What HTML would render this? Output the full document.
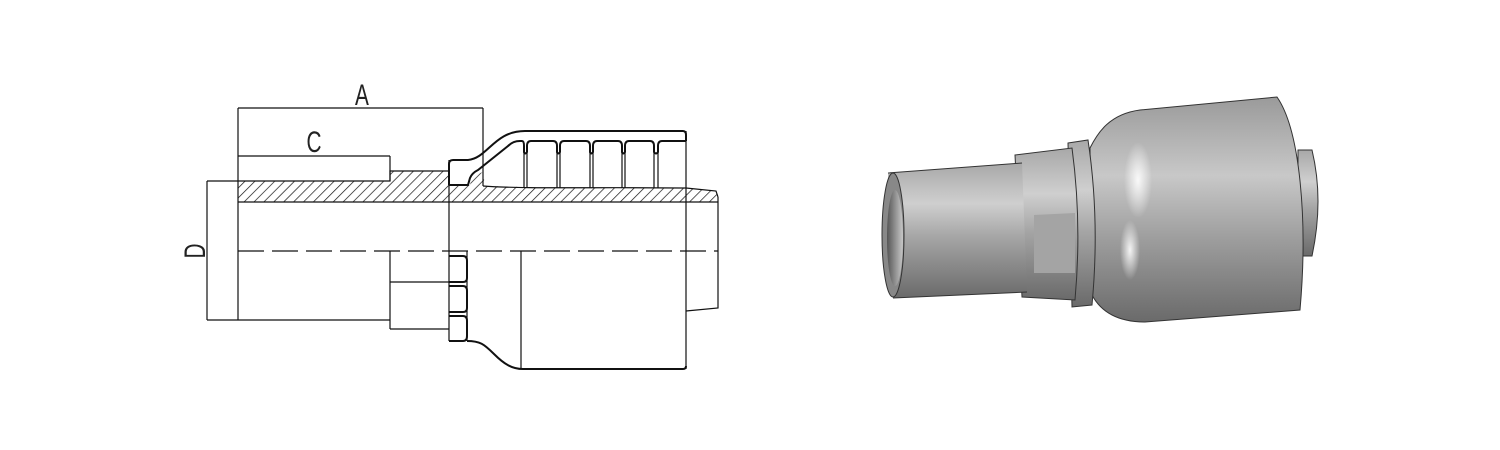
<!DOCTYPE html>
<html><head><meta charset="utf-8"><style>
html,body{margin:0;padding:0;background:#fff;}
svg{display:block;}
</style></head><body>
<svg width="1500" height="450" viewBox="0 0 1500 450" xmlns="http://www.w3.org/2000/svg">
<defs>
<pattern id="hatch" patternUnits="userSpaceOnUse" width="7" height="7" patternTransform="rotate(45)">
<line x1="0" y1="0" x2="0" y2="7" stroke="#111" stroke-width="1.4"/>
</pattern>
<linearGradient id="gv" x1="0" y1="0" x2="0" y2="1">
<stop offset="0" stop-color="#a8a8a8"/>
<stop offset="0.3" stop-color="#cfcfcf"/>
<stop offset="0.55" stop-color="#a5a5a5"/>
<stop offset="1" stop-color="#6a6a6a"/>
</linearGradient>
<linearGradient id="gb" x1="0" y1="0" x2="0" y2="1">
<stop offset="0" stop-color="#9a9a9a"/>
<stop offset="0.35" stop-color="#c8c8c8"/>
<stop offset="0.6" stop-color="#a2a2a2"/>
<stop offset="1" stop-color="#6a6a6a"/>
</linearGradient>
<linearGradient id="gh" x1="0" y1="0" x2="1" y2="0">
<stop offset="0" stop-color="#555"/>
<stop offset="1" stop-color="#c8c8c8"/>
</linearGradient>
<radialGradient id="hl" cx="0.5" cy="0.5" r="0.5">
<stop offset="0" stop-color="#fff" stop-opacity="0.9"/>
<stop offset="1" stop-color="#fff" stop-opacity="0"/>
</radialGradient>
</defs>

<g fill="none" stroke="#111" stroke-width="1.2">
<path d="M238,181 L390,181 L390,171 L449,171 L449,185 L470,185 L472,176 L483,172 L485,186 L560,188 L686,188 L716,191 L718,197 L718,202 L238,202 Z" fill="url(#hatch)" stroke="none"/>
<path d="M238,181 L390,181 L390,171 L449,171"/>
<path d="M483,186 C520,189 600,187 686,188 L716,191 L718,197"/>
<line x1="238" y1="202" x2="718" y2="202"/>
<line x1="238" y1="108" x2="483" y2="108"/>
<line x1="483" y1="108" x2="483" y2="186"/>
<line x1="238" y1="108" x2="238" y2="320"/>
<line x1="238" y1="156" x2="390" y2="156"/>
<line x1="390" y1="156" x2="390" y2="181"/>
<line x1="207" y1="181" x2="238" y2="181"/>
<line x1="207" y1="181" x2="207" y2="320"/>
<line x1="207" y1="320" x2="390" y2="320"/>
<line x1="238" y1="251" x2="718" y2="251" stroke-dasharray="26,8"/>
<line x1="390" y1="251" x2="390" y2="329"/>
<line x1="390" y1="282" x2="449" y2="282"/>
<line x1="390" y1="329" x2="449" y2="329"/>
<line x1="449" y1="160" x2="449" y2="341"/>
<line x1="467" y1="251" x2="467" y2="341"/>
<line x1="521" y1="251" x2="521" y2="369"/>
<line x1="686" y1="131" x2="686" y2="369"/>
<path d="M718,197 L718,308 L686,311"/>
</g>
<g fill="none" stroke="#111" stroke-width="2">
<path d="M449,256 L463,256 Q467,256 467,261 L467,278 Q467,282 463,282 L449,282"/>
<path d="M449,286 L463,286 Q467,286 467,291 L467,308 Q467,312 463,312 L449,312"/>
<path d="M449,316 L463,316 Q467,316 467,321 L467,336 Q467,341 463,341 L449,341"/>
<path d="M467,341 C480,341 484,344 494,354 C504,364 512,369 523,369 L683,369 Q686,369 686,366"/>
<path d="M449,185 L449,164 Q449,160 453,160 L468,160 C488,158 494,131 525,131 L683,131 Q686,131 686,135 L686,141"/>
<path d="M449,185 L468,185 L470,178 Q472,173 478,170 L508,146 Q513,141 520,141 L522,141 Q524,141 524,146 L524,152 Q525,155 527,152 L527,146 Q527,141 531,141 L553,141 Q557,141 557,146 L557,152 Q558,155 560,152 L560,146 Q560,141 564,141 L586,141 Q590,141 590,146 L590,152 Q591,155 593,152 L593,146 Q593,141 597,141 L618,141 Q622,141 622,146 L622,152 Q623,155 625,152 L625,146 Q625,141 629,141 L650,141 Q654,141 654,146 L654,152 Q656,155 658,152 L658,146 Q658,141 662,141 L686,141"/>
</g>
<g stroke="#111" stroke-width="1.2">
<line x1="524" y1="152" x2="524" y2="188"/><line x1="527" y1="152" x2="527" y2="188"/>
<line x1="557" y1="152" x2="557" y2="188"/><line x1="560" y1="152" x2="560" y2="188"/>
<line x1="590" y1="152" x2="590" y2="188"/><line x1="593" y1="152" x2="593" y2="188"/>
<line x1="622" y1="152" x2="622" y2="188"/><line x1="625" y1="152" x2="625" y2="188"/>
<line x1="654" y1="152" x2="654" y2="188"/><line x1="658" y1="152" x2="658" y2="188"/>
</g>
<g font-family="Liberation Sans, sans-serif" fill="#222">
<text transform="translate(362,105) scale(0.8,1.15)" font-size="26" text-anchor="middle">A</text>
<text transform="translate(314,152) scale(0.8,1.15)" font-size="26" text-anchor="middle">C</text>
<text transform="translate(205,251) rotate(-90) scale(0.8,1.15)" font-size="26" text-anchor="middle">D</text>
</g>

<g stroke="#333" stroke-width="1">
<path d="M1298,150 L1312,150 Q1324,200 1312,256 L1298,256 Z" fill="url(#gv)"/>
<path d="M1090,148 C1098,132 1110,114 1140,110 L1277,97 C1300,130 1308,220 1300,310 L1145,322 C1115,322 1100,310 1092,295 Z" fill="url(#gb)"/>
<ellipse cx="1138" cy="180" rx="14" ry="38" fill="url(#hl)" stroke="none"/>
<ellipse cx="1130" cy="250" rx="10" ry="30" fill="url(#hl)" stroke="none"/>
<path d="M1068,143 L1088,140 Q1100,220 1092,305 L1072,307 Z" fill="url(#gv)"/>
<path d="M1015,155 L1072,148 Q1082,222 1075,300 L1022,297 Z" fill="url(#gv)"/>
<path d="M1034,215 L1075,213 L1075,273 L1034,273 Z" fill="#a4a4a4" stroke="none"/>
<path d="M888,173 L1022,163 L1027,292 L893,298 Z" fill="url(#gv)" stroke="none"/>
<path d="M888,173 L1022,163 M893,298 L1027,292"/>
<ellipse cx="893" cy="235" rx="11" ry="62" fill="#888"/>
<ellipse cx="895" cy="238" rx="8" ry="48" fill="url(#gh)" stroke="none"/>
</g>
</svg>
</body></html>
